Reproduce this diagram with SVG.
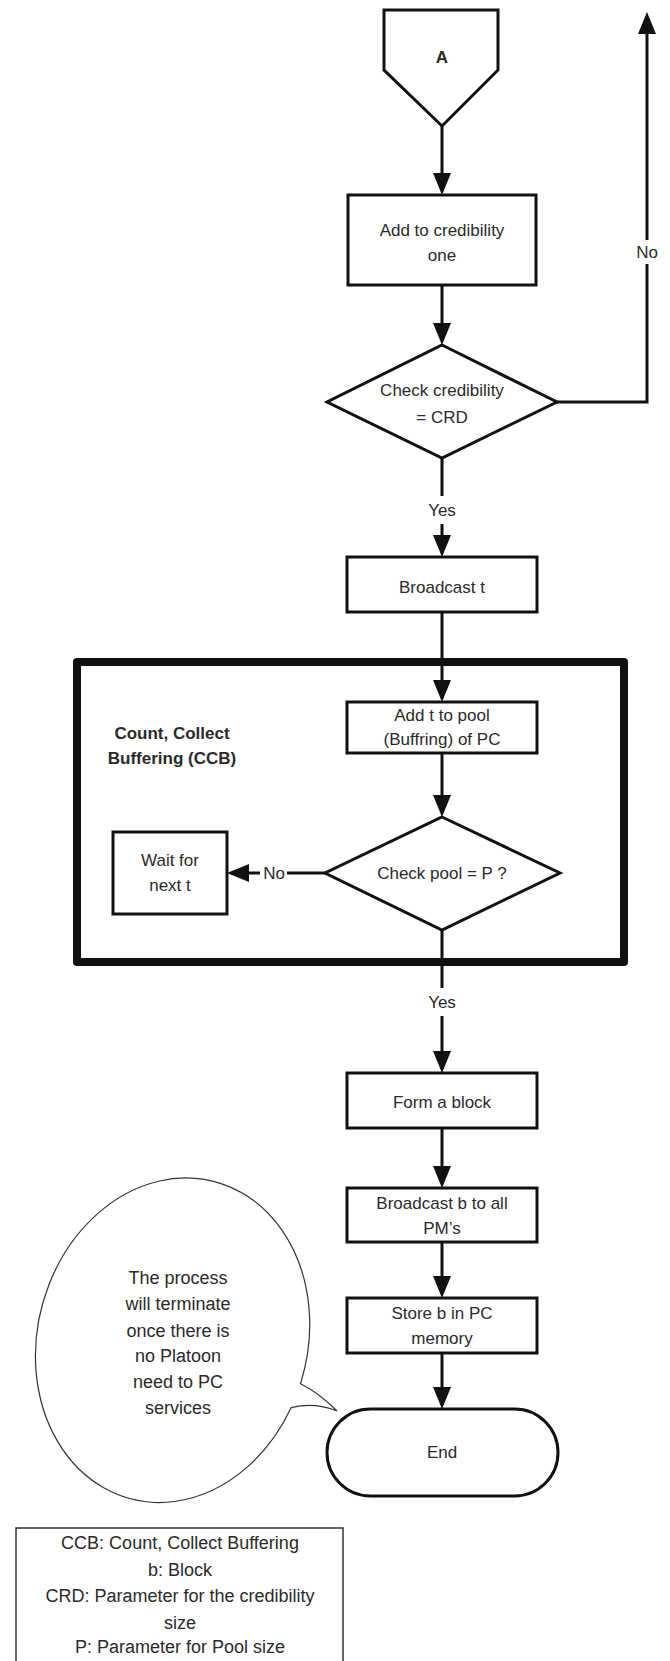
<svg xmlns="http://www.w3.org/2000/svg" width="670" height="1661" viewBox="0 0 670 1661">
<style>
.shape{fill:#fff;stroke:#111;stroke-width:3;stroke-linejoin:miter}
.t{font-family:"Liberation Sans",Arial,sans-serif;font-size:17px;fill:#2a2a2a;text-anchor:middle}
.b{font-weight:bold}
.lg{font-size:18px}
.bt{font-size:18px}
.conn{fill:none;stroke:#111;stroke-width:3}
.thin{fill:#fff;stroke:#333;stroke-width:1.2}
</style>
<defs>
<marker id="arr" viewBox="0 0 22 18" refX="18" refY="9" markerWidth="22" markerHeight="18" markerUnits="userSpaceOnUse" orient="auto">
<path d="M0,0 L22,9 L0,18 Z" fill="#111"/>
</marker>
</defs>
<rect width="670" height="1661" fill="#fff"/>

<g id="ccb-frame">
<rect x="77" y="662" width="547" height="300" fill="none" stroke="#111" stroke-width="8" stroke-linejoin="round"/>
<text class="t b" x="172" y="739">Count, Collect</text>
<text class="t b" x="172" y="764">Buffering (CCB)</text>
</g>

<g id="connectors">
<path class="conn" d="M442 126 V191" marker-end="url(#arr)"/>
<path class="conn" d="M442 285 V341" marker-end="url(#arr)"/>
<path class="conn" d="M557 402 H647 V264 M647 240 V16" marker-end="url(#arr)"/>
<path class="conn" d="M442 458 V496 M442 524 V553" marker-end="url(#arr)"/>
<path class="conn" d="M442 612 V698" marker-end="url(#arr)"/>
<path class="conn" d="M442 753 V813" marker-end="url(#arr)"/>
<path class="conn" d="M325 873 H287 M260 873 H231" marker-end="url(#arr)"/>
<path class="conn" d="M442 930 V988 M442 1016 V1069" marker-end="url(#arr)"/>
<path class="conn" d="M442 1128 V1184" marker-end="url(#arr)"/>
<path class="conn" d="M442 1242 V1294" marker-end="url(#arr)"/>
<path class="conn" d="M442 1353 V1405" marker-end="url(#arr)"/>
<text class="t" x="647" y="258">No</text>
<text class="t" x="442" y="516">Yes</text>
<text class="t" x="274" y="879">No</text>
<text class="t" x="442" y="1008">Yes</text>
</g>

<g id="node-A">
<polygon class="shape" points="384,10 498,10 498,70 442,126 384,70"/>
<text class="t b" x="442" y="63">A</text>
</g>

<g id="node-add-credibility">
<rect class="shape" x="348" y="195" width="188" height="90"/>
<text class="t" x="442" y="236">Add to credibility</text>
<text class="t" x="442" y="261">one</text>
</g>

<g id="node-check-credibility">
<polygon class="shape" points="442,345 557,402 442,458 327,402"/>
<text class="t" x="442" y="396">Check credibility</text>
<text class="t" x="442" y="423">= CRD</text>
</g>

<g id="node-broadcast-t">
<rect class="shape" x="347" y="557" width="190" height="55"/>
<text class="t" x="442" y="593">Broadcast t</text>
</g>

<g id="node-add-pool">
<rect class="shape" x="347" y="702" width="190" height="51"/>
<text class="t" x="442" y="721">Add t to pool</text>
<text class="t" x="442" y="745">(Buffring) of PC</text>
</g>

<g id="node-check-pool">
<polygon class="shape" points="442,817 560,873 442,930 325,873"/>
<text class="t" x="442" y="879">Check pool = P ?</text>
</g>

<g id="node-wait">
<rect class="shape" x="113" y="832" width="114" height="82"/>
<text class="t" x="170" y="866">Wait for</text>
<text class="t" x="170" y="891">next t</text>
</g>

<g id="node-form-block">
<rect class="shape" x="347" y="1073" width="190" height="55"/>
<text class="t" x="442" y="1108">Form a block</text>
</g>

<g id="node-broadcast-b">
<rect class="shape" x="347" y="1188" width="190" height="54"/>
<text class="t" x="442" y="1209">Broadcast b to all</text>
<text class="t" x="442" y="1234">PM’s</text>
</g>

<g id="node-store-b">
<rect class="shape" x="347" y="1298" width="190" height="55"/>
<text class="t" x="442" y="1319">Store b in PC</text>
<text class="t" x="442" y="1344">memory</text>
</g>

<g id="node-end">
<rect class="shape" x="327" y="1409" width="231" height="87" rx="43.5" ry="43.5"/>
<text class="t" x="442" y="1458">End</text>
</g>

<g id="callout">
<path class="thin" d="M300.5 1383.7 A135 164 15 1 0 291.2 1407.6 Q315 1402 337 1411 Q318 1392 300.5 1383.7 Z"/>
<text class="t bt" x="178" y="1284">The process</text>
<text class="t bt" x="178" y="1310">will terminate</text>
<text class="t bt" x="178" y="1337">once there is</text>
<text class="t bt" x="178" y="1362">no Platoon</text>
<text class="t bt" x="178" y="1388">need to PC</text>
<text class="t bt" x="178" y="1414">services</text>
</g>

<g id="legend">
<rect x="16" y="1528" width="327" height="140" fill="#fff" stroke="#333" stroke-width="1.5"/>
<text class="t lg" x="180" y="1549">CCB: Count, Collect Buffering</text>
<text class="t lg" x="180" y="1576">b: Block</text>
<text class="t lg" x="180" y="1602">CRD: Parameter for the credibility</text>
<text class="t lg" x="180" y="1629">size</text>
<text class="t lg" x="180" y="1653">P: Parameter for Pool size</text>
</g>
</svg>
